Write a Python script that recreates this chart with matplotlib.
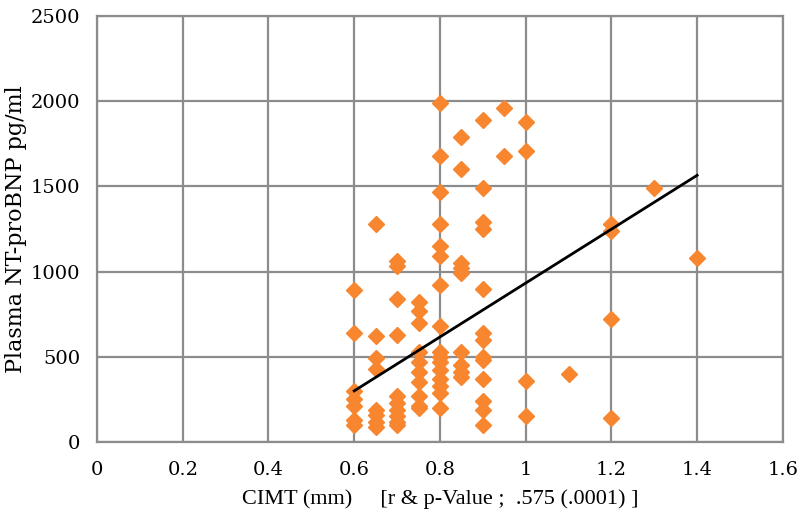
import matplotlib
matplotlib.use("Agg")
import matplotlib.pyplot as plt

# CIMT (mm) vs plasma NT-proBNP (pg/ml)
cimt_06 = [890, 640, 300, 250, 210, 130, 100]
cimt_065 = [1280, 620, 490, 430, 190, 160, 120, 90]
cimt_07 = [1060, 1030, 840, 630, 270, 230, 190, 150, 120, 100]
cimt_075 = [820, 770, 700, 530, 470, 410, 350, 270, 210, 200]
cimt_08 = [1990, 1680, 1470, 1280, 1150, 1090, 920, 680, 530, 500, 470,
           420, 370, 330, 290, 200]
cimt_085 = [1790, 1600, 1050, 1020, 990, 530, 450, 410, 380]
cimt_09 = [1890, 1490, 1290, 1250, 900, 640, 600, 500, 480, 370, 240, 190, 100]
cimt_095 = [1960, 1680]
cimt_10 = [1880, 1710, 360, 150]
cimt_11 = [400]
cimt_12 = [1280, 1240, 720, 140]
cimt_13 = [1490]
cimt_14 = [1080]

groups = {0.6: cimt_06, 0.65: cimt_065, 0.7: cimt_07, 0.75: cimt_075,
          0.8: cimt_08, 0.85: cimt_085, 0.9: cimt_09, 0.95: cimt_095,
          1.0: cimt_10, 1.1: cimt_11, 1.2: cimt_12, 1.3: cimt_13, 1.4: cimt_14}

# linear trend line end points
trend_x = [0.6, 1.4]
trend_y = [300, 1565]

x_ticks = [0, 0.2, 0.4, 0.6, 0.8, 1, 1.2, 1.4, 1.6]
y_ticks = [0, 500, 1000, 1500, 2000, 2500]

xs = []
ys = []
for k, vals in groups.items():
    xs += [k] * len(vals)
    ys += vals

plt.rcParams['font.family'] = ['DejaVu Serif']

fig = plt.figure(figsize=(7.98, 5.28), dpi=100)
ax = fig.add_axes([0.1216, 0.1629, 0.8594, 0.8068])

ax.grid(True, color='#8c8c8c', linewidth=1.6, zorder=0)
ax.set_axisbelow(True)
for s in ax.spines.values():
    s.set_color('#8c8c8c')
    s.set_linewidth(1.6)

ax.plot(xs, ys, linestyle='none', marker='D', markersize=8.5,
        color='#f7862f', zorder=3)
ax.plot(trend_x, trend_y, color='black', linewidth=2, zorder=4)

ax.set_xlim(0, 1.6)
ax.set_ylim(0, 2500)
ax.set_xticks(x_ticks)
ax.set_xticklabels(['0', '0.2', '0.4', '0.6', '0.8', '1', '1.2', '1.4', '1.6'])
ax.set_yticks(y_ticks)
ax.tick_params(length=0, labelsize=14)
ax.tick_params(axis='x', pad=14)
ax.tick_params(axis='y', pad=12)

ax.set_xlabel('CIMT (mm)     [r & p-Value ;  .575 (.0001) ]',
              fontsize=16, family='Liberation Serif', labelpad=7)
ax.set_ylabel('Plasma NT-proBNP pg/ml', fontsize=16, labelpad=3)

fig.savefig('out.png', dpi=100)
